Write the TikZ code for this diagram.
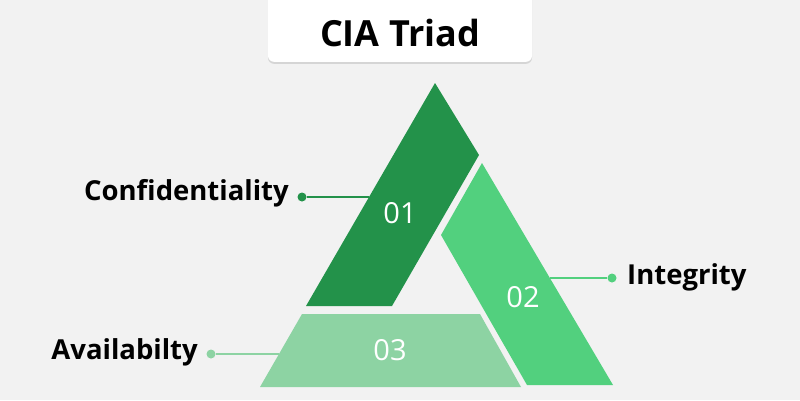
\documentclass[tikz,border=0pt]{standalone}
\usepackage{fontspec}
\setmainfont{Open Sans}
\usetikzlibrary{shadows}
\definecolor{bg}{HTML}{F2F2F2}
\definecolor{gdark}{HTML}{23924A}
\definecolor{gmid}{HTML}{52D07E}
\definecolor{glight}{HTML}{8DD3A3}
\tikzset{
  lbl/.style={font=\bfseries\fontsize{27.5}{30}\selectfont, text=black, inner sep=0pt},
  num/.style={font=\fontsize{29}{32}\selectfont, text=white, inner sep=0pt},
  dot/.style={circle, fill=#1, minimum size=9pt, inner sep=0pt},
  conn/.style={draw=#1, line width=2pt},
}
\begin{document}
\begin{tikzpicture}[x=1pt,y=-1pt]
\fill[bg] (0,0) rectangle (800,400);
\useasboundingbox (0,0) rectangle (800,400);
% title
\node[fill=white, rounded corners=6pt, minimum width=264pt, minimum height=72pt,
      drop shadow={shadow xshift=0pt, shadow yshift=-2pt, opacity=0.25}, anchor=south] (tbox) at (400,62) {};
\node[font=\bfseries\fontsize{36}{40}\selectfont, inner sep=0pt] (title) at (400,33) {CIA Triad};
% shapes
\fill[gdark] (435,83) -- (479,155) -- (392,306) -- (306,306) -- cycle;
\fill[gmid] (482,163) -- (613,385) -- (527,385) -- (441,235) -- cycle;
\fill[glight] (302,314) -- (480,314) -- (521,387) -- (260,387) -- cycle;
% numbers
\node[num] (n1) at (400,213) {01};
\node[num] (n2) at (523,297) {02};
\node[num] (n3) at (390,350) {03};
% coordinates on edges
\coordinate (e1) at (369,197);
\coordinate (e2) at (550,278);
\coordinate (e3) at (279,354);
% dots
\node[dot=gdark] (d1) at (302,197) {};
\node[dot=gmid] (d2) at (612,278) {};
\node[dot=glight] (d3) at (211,354) {};
\draw[conn=gdark] (d1) -- (e1);
\draw[conn=gmid] (d2) -- (e2);
\draw[conn=glight] (d3) -- (e3);
% labels
\node[lbl, anchor=east] (l1) at (289,193) {Confidentiality};
\node[lbl, anchor=west] (l2) at (627,277) {Integrity};
\node[lbl, anchor=east] (l3) at (198,352) {Availabilty};
\end{tikzpicture}
\end{document}
